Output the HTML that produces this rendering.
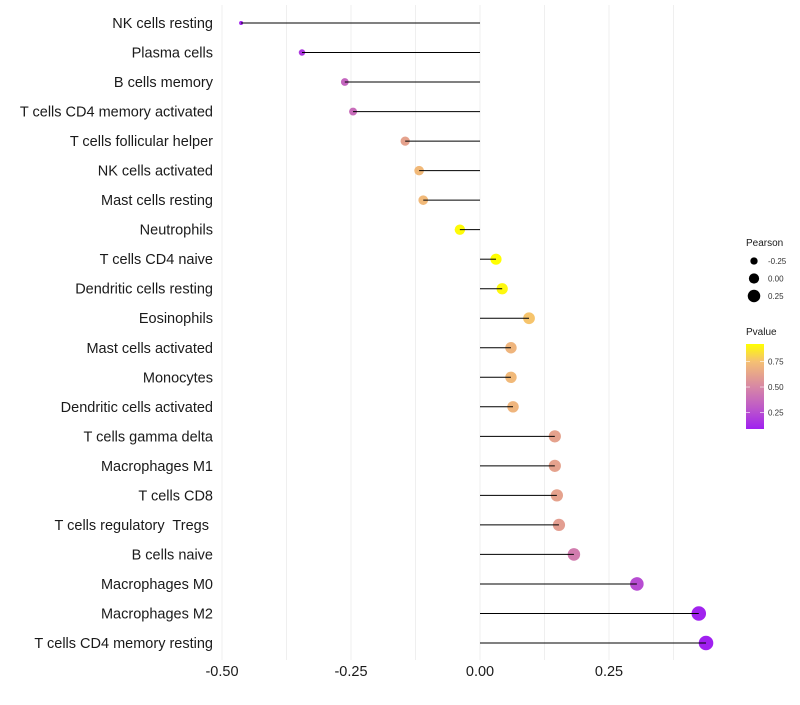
<!DOCTYPE html>
<html><head><meta charset="utf-8"><style>
body{margin:0;background:#fff;font-family:"Liberation Sans",sans-serif}
text{white-space:pre}
</style></head><body>
<svg id="chart" width="800" height="700" xmlns="http://www.w3.org/2000/svg"></svg>
<script>
const categories=["NK cells resting","Plasma cells","B cells memory","T cells CD4 memory activated","T cells follicular helper","NK cells activated","Mast cells resting","Neutrophils","T cells CD4 naive","Dendritic cells resting","Eosinophils","Mast cells activated","Monocytes","Dendritic cells activated","T cells gamma delta","Macrophages M1","T cells CD8","T cells regulatory  Tregs ","B cells naive","Macrophages M0","Macrophages M2","T cells CD4 memory resting"];
const pearson=[-0.463,-0.345,-0.262,-0.246,-0.145,-0.118,-0.110,-0.039,0.031,0.043,0.095,0.060,0.060,0.064,0.145,0.145,0.149,0.153,0.182,0.304,0.424,0.438];
const pvalue=[0.10,0.18,0.35,0.38,0.62,0.72,0.72,0.91,0.92,0.90,0.76,0.70,0.72,0.70,0.62,0.62,0.62,0.60,0.45,0.25,0.10,0.09];
const xTicks=[-0.5,-0.25,0,0.25];
const xTickLabels=["-0.50","-0.25","0.00","0.25"];
const sizeTicks=[-0.25,0,0.25];
const colorTicks=[0.25,0.5,0.75];

const svg=document.getElementById('chart');
const NS="http://www.w3.org/2000/svg";
function el(t,a,p){const e=document.createElementNS(NS,t);for(const k in a)e.setAttribute(k,a[k]);(p||svg).appendChild(e);return e;}
const x=v=>480+v*516;
const y=i=>23+i*(620/21);
const rad=v=>{const a=Math.pow(2,2),b=Math.pow(7.3,2);return Math.sqrt(a+(v+0.463)/(0.438+0.463)*(b-a));};
const stops=[[0.09,[160,32,240]],[0.3,[190,90,200]],[0.5,[215,135,165]],[0.75,[245,192,115]],[0.92,[255,255,0]]];
function col(p){if(p<=stops[0][0])return`rgb(${stops[0][1]})`;for(let i=1;i<stops.length;i++){if(p<=stops[i][0]){const t=(p-stops[i-1][0])/(stops[i][0]-stops[i-1][0]);const c=stops[i-1][1].map((v,k)=>Math.round(v+t*(stops[i][1][k]-v)));return`rgb(${c})`;}}return`rgb(${stops[stops.length-1][1]})`;}

[-0.5,-0.375,-0.25,-0.125,0,0.125,0.25,0.375].forEach(v=>{
 const g=el('line',{x1:x(v),x2:x(v),y1:5,y2:660,stroke:'#ebebeb','stroke-width':0.8});
 
});
categories.forEach((c,i)=>{
 const t=el('text',{x:213,y:y(i)+5,'text-anchor':'end','font-size':14.5,fill:'#1a1a1a'});t.textContent=c;
 
 const d=el('circle',{cx:x(pearson[i]),cy:y(i),r:rad(pearson[i]),fill:col(pvalue[i])});
 
 const l=el('line',{x1:x(0),x2:x(pearson[i]),y1:y(i),y2:y(i),stroke:'#000','stroke-width':1});
 
});
xTicks.forEach((v,i)=>{
 const t=el('text',{x:x(v),y:676,'text-anchor':'middle','font-size':14.5,fill:'#1a1a1a'});t.textContent=xTickLabels[i];
 
});
let t=el('text',{x:746,y:246,'font-size':10,fill:'#1a1a1a'});t.textContent='Pearson';

sizeTicks.forEach((v,i)=>{
 const c=el('circle',{cx:754,cy:261+i*17.5,r:rad(v)-0.3,fill:'#000'});
 
 const s=el('text',{x:768,y:264+i*17.5,'font-size':8,fill:'#333'});s.textContent=v.toFixed(2);
 
});
t=el('text',{x:746,y:335,'font-size':10,fill:'#1a1a1a'});t.textContent='Pvalue';

const defs=el('defs',{});const lg=el('linearGradient',{id:'pg',x1:0,y1:1,x2:0,y2:0},defs);
stops.forEach(s=>el('stop',{offset:(s[0]-0.09)/(0.92-0.09),'stop-color':`rgb(${s[1]})`},lg));
const bar=el('rect',{x:746,y:344,width:18,height:85,fill:'url(#pg)'});

colorTicks.forEach(v=>{
 const yy=429-(v-0.09)/(0.92-0.09)*85;
 el('line',{x1:746,x2:750,y1:yy,y2:yy,stroke:'#fff','stroke-width':0.6});
 el('line',{x1:760,x2:764,y1:yy,y2:yy,stroke:'#fff','stroke-width':0.6});
 const s=el('text',{x:768,y:yy+3,'font-size':8,fill:'#333'});s.textContent=v.toFixed(2);
 
});
</script>
</body></html>
